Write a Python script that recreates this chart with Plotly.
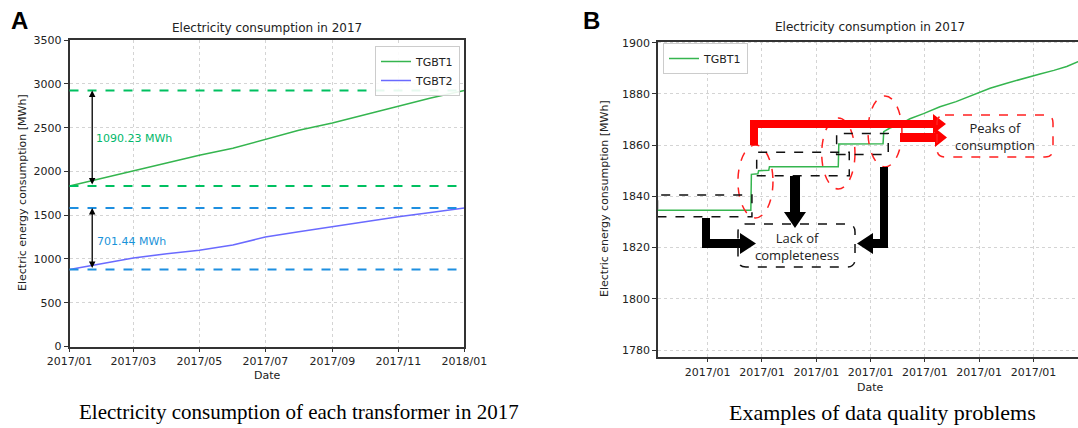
import pandas as pd
import plotly.graph_objects as go

W, H = 1078, 428

# ---------------- data ----------------
months_a = ["2017-01-01", "2017-02-01", "2017-03-01", "2017-04-01", "2017-05-01",
            "2017-06-01", "2017-07-01", "2017-08-01", "2017-09-01", "2017-10-01",
            "2017-11-01", "2017-12-01", "2018-01-01"]
tgbt1_a = [1834.60, 1925, 2005, 2100, 2185, 2265, 2370, 2470, 2555, 2650, 2750, 2840, 2924.83]
tgbt2_a = [880.00, 950, 1012, 1060, 1100, 1160, 1250, 1310, 1370, 1425, 1482, 1530, 1581.44]

hours_b = [0.0, 7.18, 7.22, 7.7, 7.75, 8.5, 8.55, 13.62, 13.66, 16.92, 16.97, 17.43, 18.2,
           18.9, 19.9, 21.11, 22.3, 23.57, 24.8, 26.03, 27.2, 28.48, 29.5, 30.45, 31.28, 31.6]
tgbt1_b = [1834.6, 1834.6, 1848.6, 1848.8, 1850.0, 1850.2, 1851.6, 1851.6, 1860.5, 1860.6,
           1865.3, 1866.7, 1868.2, 1870.3, 1872.3, 1875.0, 1877.0, 1879.6, 1882.2, 1884.2,
           1886.0, 1887.8, 1889.2, 1890.7, 1892.6, 1893.2]

ticks_a_y = [0, 500, 1000, 1500, 2000, 2500, 3000, 3500]
ticks_b_y = [1780, 1800, 1820, 1840, 1860, 1880, 1900]

base = pd.Timestamp("2017-01-01")


def t(h):
    return (base + pd.Timedelta(hours=h)).strftime("%Y-%m-%d %H:%M:%S")


times_b = [t(h) for h in hours_b]

# ---------------- styles ----------------
C_G_LINE = "#35b54f"
C_B_LINE = "#6a6aff"
C_G_DASH = "#00c060"
C_B_DASH = "#1e8fe0"
C_G_TXT = "#00b86b"
C_B_TXT = "#1a93d9"
FONT = "DejaVu Sans"


def P(x, y):
    return f"{x / W:.5f},{1 - y / H:.5f}"


def poly(pts):
    return "M " + " L ".join(P(x, y) for x, y in pts) + " Z"


def rbox(x0, y0, x1, y1, r):
    return (f"M {P(x0 + r, y0)} L {P(x1 - r, y0)} Q {P(x1, y0)} {P(x1, y0 + r)} "
            f"L {P(x1, y1 - r)} Q {P(x1, y1)} {P(x1 - r, y1)} L {P(x0 + r, y1)} "
            f"Q {P(x0, y1)} {P(x0, y1 - r)} L {P(x0, y0 + r)} Q {P(x0, y0)} {P(x0 + r, y0)} Z")


fig = go.Figure()

fig.add_trace(go.Scatter(x=months_a, y=tgbt1_a, mode="lines", name="TGBT1",
                         line=dict(color=C_G_LINE, width=1.5), xaxis="x", yaxis="y",
                         legend="legend"))
fig.add_trace(go.Scatter(x=months_a, y=tgbt2_a, mode="lines", name="TGBT2",
                         line=dict(color=C_B_LINE, width=1.5), xaxis="x", yaxis="y",
                         legend="legend"))
fig.add_trace(go.Scatter(x=times_b, y=tgbt1_b, mode="lines", name="TGBT1",
                         line=dict(color=C_G_LINE, width=1.5), xaxis="x2", yaxis="y2",
                         legend="legend2"))

axis_common = dict(showgrid=True, gridcolor="#d4d4d4", griddash="dot", gridwidth=1,
                   showline=True, linecolor="#333333", linewidth=1.5,
                   ticks="outside", ticklen=4, tickcolor="#333333", tickwidth=1,
                   tickfont=dict(family=FONT, size=11, color="#222222"), zeroline=False,
                   automargin=False)

shapes = []
annotations = []

# dashed reference lines (panel A)
for val, col in [(tgbt1_a[0], C_G_DASH), (tgbt1_a[-1], C_G_DASH),
                 (tgbt2_a[0], C_B_DASH), (tgbt2_a[-1], C_B_DASH)]:
    shapes.append(dict(type="line", xref="x domain", yref="y", x0=0, x1=1, y0=val, y1=val,
                       line=dict(color=col, width=2, dash="dash")))

arrow_x = "2017-01-22"
for lo, hi in [(tgbt1_a[0], tgbt1_a[-1]), (tgbt2_a[0], tgbt2_a[-1])]:
    annotations.append(dict(x=arrow_x, y=hi, ax=arrow_x, ay=lo, xref="x", yref="y",
                            axref="x", ayref="y", showarrow=True, arrowhead=2,
                            arrowside="end+start", arrowsize=1, arrowwidth=1.3,
                            arrowcolor="black", text=""))

annotations.append(dict(x="2017-01-23 12:00", y=2378, xref="x", yref="y", xanchor="left",
                        yanchor="middle",
                        text=f"{tgbt1_a[-1] - tgbt1_a[0]:.2f} MWh", showarrow=False,
                        font=dict(family=FONT, size=11, color=C_G_TXT)))
annotations.append(dict(x="2017-01-25", y=1197, xref="x", yref="y", xanchor="left",
                        yanchor="middle",
                        text=f"{tgbt2_a[-1] - tgbt2_a[0]:.2f} MWh", showarrow=False,
                        font=dict(family=FONT, size=11, color=C_B_TXT)))

# ---------------- panel B decorations ----------------
for h0, h1, v0, v1 in [(6.23, 8.81, 1831.6, 1860.1), (12.40, 14.85, 1842.9, 1870.6),
                       (15.81, 18.31, 1851.5, 1879.2)]:
    shapes.append(dict(type="circle", xref="x2", yref="y2", x0=t(h0), x1=t(h1), y0=v0, y1=v1,
                       line=dict(color="#ff2020", width=1.5, dash="dash")))

for h0, h1, v0, v1 in [(0.30, 7.26, 1832.0, 1840.5), (7.61, 14.43, 1848.1, 1857.2),
                       (13.50, 17.30, 1856.4, 1864.6)]:
    shapes.append(dict(type="rect", xref="x2", yref="y2", x0=t(h0), x1=t(h1), y0=v0, y1=v1,
                       line=dict(color="#111111", width=1.5, dash="dash")))

# red arrows
shapes.append(dict(type="path", xref="paper", yref="paper", fillcolor="#ff0000",
                   line=dict(width=0),
                   path=poly([(750, 145), (750, 120), (933, 120), (933, 114), (946, 124),
                              (933, 134), (933, 128), (758, 128), (758, 145)])))
shapes.append(dict(type="path", xref="paper", yref="paper", fillcolor="#ff0000",
                   line=dict(width=0),
                   path=poly([(900, 133), (935, 133), (935, 128), (947, 137.5), (935, 147),
                              (935, 142), (900, 142)])))
# black arrows
shapes.append(dict(type="path", xref="paper", yref="paper", fillcolor="#000000",
                   line=dict(width=0),
                   path=poly([(702, 218), (710, 218), (710, 239), (740, 239), (740, 233),
                              (756, 243.5), (740, 254), (740, 248), (702, 248)])))
shapes.append(dict(type="path", xref="paper", yref="paper", fillcolor="#000000",
                   line=dict(width=0),
                   path=poly([(790, 176), (800, 176), (800, 212), (806, 212), (795, 228),
                              (784, 212), (790, 212)])))
shapes.append(dict(type="path", xref="paper", yref="paper", fillcolor="#000000",
                   line=dict(width=0),
                   path=poly([(880, 167), (888, 167), (888, 248), (873, 248), (873, 254),
                              (857, 243.5), (873, 233), (873, 239), (880, 239)])))
# rounded dashed boxes
shapes.append(dict(type="path", xref="paper", yref="paper",
                   line=dict(color="#ff2020", width=1.5, dash="dash"),
                   path=rbox(937, 115, 1053, 157, 8)))
shapes.append(dict(type="path", xref="paper", yref="paper",
                   line=dict(color="#111111", width=1.5, dash="dash"),
                   path=rbox(738, 224, 855, 267, 8)))

BOXFONT = dict(family="Open Sans", size=13, color="#222222")
annotations.append(dict(x=995 / W, y=1 - 136 / H, xref="paper", yref="paper",
                        xanchor="center", yanchor="middle",
                        text="Peaks of<br>consumption", showarrow=False, font=BOXFONT))
annotations.append(dict(x=796.5 / W, y=1 - 246 / H, xref="paper", yref="paper",
                        xanchor="center", yanchor="middle",
                        text="Lack of<br>completeness", showarrow=False, font=BOXFONT))

# titles, labels, captions
TFONT = dict(family=FONT, size=12, color="#222222")
LFONT = dict(family=FONT, size=11, color="#222222")
for x, y, txt, f, ang in [
    (267, 28, "Electricity consumption in 2017", TFONT, 0),
    (870, 27, "Electricity consumption in 2017", TFONT, 0),
    (267, 375, "Date", LFONT, 0),
    (870, 387, "Date", LFONT, 0),
    (22, 193, "Electric energy consumption [MWh]", LFONT, -90),
    (604, 199, "Electric energy consumption [MWh]", LFONT, -90),
    (19, 20, "<b>A</b>", dict(family="Liberation Sans", size=24, color="black"), 0),
    (591, 20, "<b>B</b>", dict(family="Liberation Sans", size=24, color="black"), 0),
    (299, 412, "Electricity consumption of each transformer in 2017",
     dict(family="Liberation Serif", size=21, color="black"), 0),
    (882, 412, "Examples of data quality problems",
     dict(family="Liberation Serif", size=22, color="black"), 0),
]:
    annotations.append(dict(x=x / W, y=1 - y / H, xref="paper", yref="paper", text=txt,
                            showarrow=False, font=f, textangle=ang,
                            xanchor="center", yanchor="middle"))

fig.update_layout(
    width=W, height=H, autosize=False,
    margin=dict(l=0, r=0, t=0, b=0, pad=0, autoexpand=False),
    paper_bgcolor="white", plot_bgcolor="white",
    xaxis=dict(domain=[69.5 / W, 464.3 / W], anchor="y", type="date",
               range=["2017-01-01", "2018-01-01"], tick0="2017-01-01", dtick="M2",
               tickformat="%Y/%m", mirror=True, **axis_common),
    yaxis=dict(domain=[1 - 346.5 / H, 1 - 40.2 / H], anchor="x", range=[0, 3500],
               tickvals=ticks_a_y, mirror=True, **axis_common),
    xaxis2=dict(domain=[658 / W, 1.0], anchor="y2", type="date",
                range=[t(0.34), t(31.28)], tick0="2017-01-01 04:00", dtick=4 * 3600 * 1000,
                tickformat="%Y/%m", mirror=True, **axis_common),
    yaxis2=dict(domain=[1 - 356.7 / H, 1 - 41.7 / H], anchor="x2", range=[1777.4, 1900.4],
                tickvals=ticks_b_y, mirror=False, **axis_common),
    legend=dict(x=460 / W, y=1 - 46 / H, xanchor="right", yanchor="top",
                bgcolor="rgba(255,255,255,0.9)", bordercolor="#cccccc", borderwidth=1,
                font=dict(family=FONT, size=11, color="#222222"), tracegroupgap=0),
    legend2=dict(x=663 / W, y=1 - 43 / H, xanchor="left", yanchor="top",
                 bgcolor="rgba(255,255,255,0.9)", bordercolor="#cccccc", borderwidth=1,
                 font=dict(family=FONT, size=11, color="#222222")),
    shapes=shapes,
    annotations=annotations,
    showlegend=True,
)

fig.write_html("out.html", config={"displayModeBar": False},
               post_script="document.body.style.margin='0';"
                           "document.body.style.overflow='hidden';")
